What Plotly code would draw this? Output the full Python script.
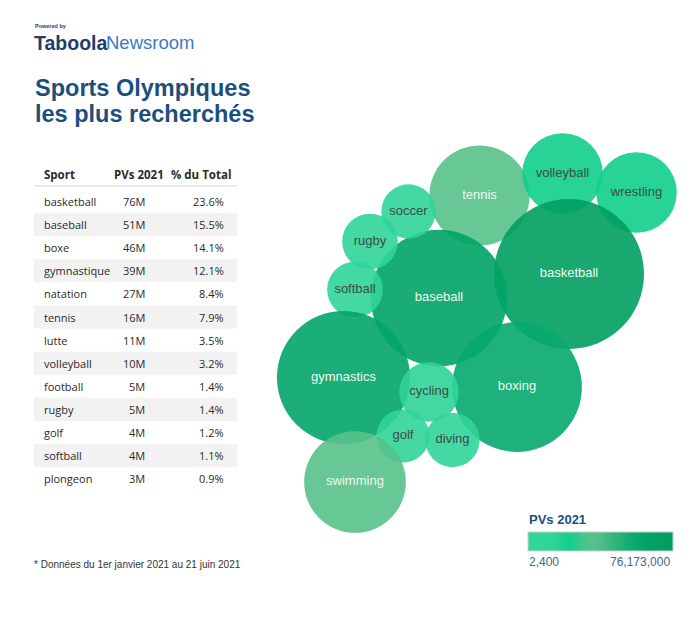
import plotly.graph_objects as go

# ---------------- data ----------------
table_headers = ["Sport", "PVs 2021", "% du Total"]
table_sports = ["basketball", "baseball", "boxe", "gymnastique", "natation", "tennis",
                "lutte", "volleyball", "football", "rugby", "golf", "softball", "plongeon"]
table_pvs = ["76M", "51M", "46M", "39M", "27M", "16M", "11M", "10M", "5M", "5M", "4M", "4M", "3M"]
table_pct = ["23.6%", "15.5%", "14.1%", "12.1%", "8.4%", "7.9%", "3.5%", "3.2%",
             "1.4%", "1.4%", "1.2%", "1.1%", "0.9%"]

bubble_labels = ["tennis", "volleyball", "wrestling", "basketball", "baseball", "soccer",
                 "rugby", "softball", "gymnastics", "boxing", "cycling", "golf", "diving",
                 "swimming"]
# PVs per bubble
bubble_pvs = [34000000, 22000000, 22000000, 76173000, 63000000, 10000000,
              10500000, 10500000, 60000000, 57000000, 12000000, 9500000, 10000000,
              35000000]
scale_min = 2400
scale_max = 76173000
scale_labels = ["2,400", "76,173,000"]

title_lines = ["Sports Olympiques", "les plus recherchés"]
footnote = "* Données du 1er janvier 2021 au 21 juin 2021"
legend_title = "PVs 2021"

# ---------------- layout (packed-bubble positions, px) ----------------
bubble_cx = [479.5, 562.5, 636.5, 569, 439, 408.5, 370, 355, 343.5, 517, 429, 403, 452.5, 355]
bubble_cy = [195.5, 173.5, 192.5, 274, 298, 211.5, 241.5, 289.5, 377.5, 387, 392, 436, 440, 482]
MAX_R = 75

W, H = 688, 626
TITLE_COLOR = "#1b4f7c"
TEXT_COLOR = "#2a2a2a"

colorscale = [
    [0.0, "#34d69b"], [0.17, "#2fd498"], [0.29, "#10cf8b"], [0.37, "#40c78e"],
    [0.44, "#57c189"], [0.47, "#57c189"], [0.74, "#06a86e"], [0.83, "#00a366"],
    [1.0, "#009e5f"],
]

label_colors = ["#eef8f2" if v > 30000000 else "#3b4d45" for v in bubble_pvs]

fig = go.Figure()
fig.add_trace(go.Scatter(
    x=bubble_cx, y=bubble_cy, mode="markers+text",
    text=bubble_labels, textposition="middle center",
    textfont=dict(family="Liberation Sans, Arial", size=13, color=label_colors),
    marker=dict(
        size=bubble_pvs, sizemode="area", sizeref=max(bubble_pvs) / (2 * MAX_R ** 2),
        color=bubble_pvs, cmin=scale_min, cmax=scale_max, colorscale=colorscale,
        opacity=0.9, line=dict(width=0),
        showscale=True,
        colorbar=dict(
            orientation="h", x=600.5 / W, xanchor="center", y=1 - 532 / H, yanchor="top",
            len=145, lenmode="pixels", thickness=19, thicknessmode="pixels",
            xpad=0, ypad=0, outlinewidth=1, outlinecolor="#cfcfcf",
            showticklabels=False, ticks="", title=dict(text=""),
        ),
    ),
    hoverinfo="skip", showlegend=False, cliponaxis=False,
))

shapes = []
annotations = []

# Logo
annotations.append(dict(x=34, y=30, xref="x", yref="y", xanchor="left", yanchor="bottom",
                        text="<b>Powered by</b>", showarrow=False, borderpad=0,
                        font=dict(family="Liberation Sans, Arial", size=5.5, color="#1f3d6b")))
annotations.append(dict(x=33, y=30.5, xref="x", yref="y", xanchor="left", yanchor="top",
                        text="<b>Taboola</b>", showarrow=False, borderpad=0,
                        font=dict(family="Liberation Sans, Arial", size=19.5, color="#1f3d6b")))
annotations.append(dict(x=105, y=30.5, xref="x", yref="y", xanchor="left", yanchor="top",
                        text="Newsroom", showarrow=False, borderpad=0,
                        font=dict(family="Liberation Sans, Arial", size=18.5, color="#3b7bbf")))

# Title
for i, line in enumerate(title_lines):
    annotations.append(dict(x=33, y=88 + i * 25.5, xref="x", yref="y", xanchor="left",
                            yanchor="middle", text="<b>%s</b>" % line, showarrow=False,
                            font=dict(family="Liberation Sans, Arial", size=23.5, color=TITLE_COLOR)))

# Table
T_LEFT, T_RIGHT = 34, 237
ROW0, ROW_H = 201.5, 23.1
hdr_font = dict(family="Open Sans, Liberation Sans", size=11.5, color=TEXT_COLOR)
annotations.append(dict(x=42, y=174, xref="x", yref="y", xanchor="left", yanchor="middle",
                        text="<b>%s</b>" % table_headers[0], showarrow=False, font=hdr_font))
annotations.append(dict(x=166, y=174, xref="x", yref="y", xanchor="right", yanchor="middle",
                        text="<b>%s</b>" % table_headers[1], showarrow=False, font=hdr_font))
annotations.append(dict(x=233, y=174, xref="x", yref="y", xanchor="right", yanchor="middle",
                        text="<b>%s</b>" % table_headers[2], showarrow=False, font=hdr_font))
shapes.append(dict(type="line", xref="x", yref="y", x0=T_LEFT, x1=T_RIGHT, y0=186, y1=186,
                   line=dict(color="#e3e3e3", width=1.5)))

body_font = dict(family="Open Sans, Liberation Sans", size=11, color=TEXT_COLOR)
for i, (s, p, pc) in enumerate(zip(table_sports, table_pvs, table_pct)):
    yc = ROW0 + i * ROW_H
    if i % 2 == 1:
        shapes.append(dict(type="rect", xref="x", yref="y", x0=T_LEFT, x1=T_RIGHT,
                           y0=yc - ROW_H / 2, y1=yc + ROW_H / 2,
                           fillcolor="#f2f2f2", line=dict(width=0), layer="below"))
    annotations.append(dict(x=42, y=yc, xref="x", yref="y", xanchor="left", yanchor="middle",
                            text=s, showarrow=False, font=body_font))
    annotations.append(dict(x=147, y=yc, xref="x", yref="y", xanchor="right", yanchor="middle",
                            text=p, showarrow=False, font=body_font))
    annotations.append(dict(x=226, y=yc, xref="x", yref="y", xanchor="right", yanchor="middle",
                            text=pc, showarrow=False, font=body_font))

# Footnote
annotations.append(dict(x=32, y=564.5, xref="x", yref="y", xanchor="left", yanchor="middle",
                        text=footnote, showarrow=False,
                        font=dict(family="Liberation Sans, Arial", size=10, color="#333333")))

# Colour legend texts
annotations.append(dict(x=527, y=519.5, xref="x", yref="y", xanchor="left", yanchor="middle",
                        text="<b>%s</b>" % legend_title, showarrow=False,
                        font=dict(family="Liberation Sans, Arial", size=13, color=TITLE_COLOR)))
annotations.append(dict(x=527, y=562, xref="x", yref="y", xanchor="left", yanchor="middle",
                        text=scale_labels[0], showarrow=False,
                        font=dict(family="Liberation Sans, Arial", size=12, color="#3a6a8e")))
annotations.append(dict(x=672, y=562, xref="x", yref="y", xanchor="right", yanchor="middle",
                        text=scale_labels[1], showarrow=False,
                        font=dict(family="Liberation Sans, Arial", size=12, color="#3a6a8e")))

fig.update_layout(
    width=W, height=H, margin=dict(l=0, r=0, t=0, b=0, pad=0),
    paper_bgcolor="white", plot_bgcolor="white",
    xaxis=dict(range=[0, W], visible=False, fixedrange=True),
    yaxis=dict(range=[H, 0], visible=False, fixedrange=True),
    shapes=shapes, annotations=annotations, hovermode=False,
)

fig.write_html("out.html")
